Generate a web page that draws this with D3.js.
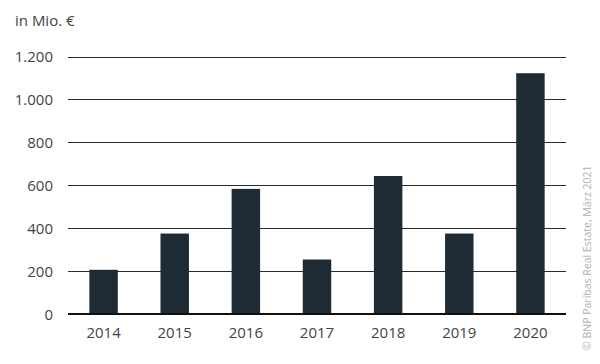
<!DOCTYPE html>
<html>
<head>
<meta charset="utf-8">
<script src="https://cdn.jsdelivr.net/npm/d3@7"></script>
<style>
    body { margin: 0; background: #fff; }
    text { font-family: "Open Sans", sans-serif; }
</style>
</head>
<body>
<div id="chart"></div>
<script>
// chart data
const years = ['2014', '2015', '2016', '2017', '2018', '2019', '2020'];
const volumes = [206, 375, 583, 254, 643, 375, 1122];
const yTicks = [0, 200, 400, 600, 800, 1000, 1200];
const unitLabel = 'in Mio. €';
const sourceLabel = '© BNP Paribas Real Estate, März 2021';

const width = 600;
const height = 364;
const margin = { top: 56.5, right: 34, bottom: 50, left: 68 };

const svg = d3.select('#chart').append('svg')
    .attr('width', width)
    .attr('height', height);

const x = d3.scaleBand()
    .domain(years)
    .range([margin.left, width - margin.right])
    .paddingInner(0.6)
    .paddingOuter(0.3);

const y = d3.scaleLinear()
    .domain([0, 1200])
    .range([height - margin.bottom, margin.top]);

// gridlines (skip 0, drawn as baseline later)
svg.append('g')
    .selectAll('line')
    .data(yTicks.filter(d => d > 0))
    .join('line')
    .attr('x1', margin.left)
    .attr('x2', width - margin.right)
    .attr('y1', d => Math.round(y(d)) + 0.5)
    .attr('y2', d => Math.round(y(d)) + 0.5)
    .attr('stroke', '#2b2b2b')
    .attr('stroke-width', 1.2);

// bars
svg.append('g')
    .selectAll('rect')
    .data(years)
    .join('rect')
    .attr('x', d => x(d))
    .attr('width', x.bandwidth())
    .attr('y', (d, i) => y(volumes[i]))
    .attr('height', (d, i) => y(0) - y(volumes[i]))
    .attr('fill', '#1e2b35');

// baseline
svg.append('line')
    .attr('x1', margin.left)
    .attr('x2', width - margin.right)
    .attr('y1', y(0))
    .attr('y2', y(0))
    .attr('stroke', '#111')
    .attr('stroke-width', 2);

// y labels
svg.append('g')
    .selectAll('text')
    .data(yTicks)
    .join('text')
    .attr('x', 53)
    .attr('y', d => y(d) + 5.5)
    .attr('text-anchor', 'end')
    .attr('font-size', 15)
    .attr('fill', '#444')
    .text(d => d3.format(',')(d).replace(',', '.'));

// x labels
svg.append('g')
    .selectAll('text')
    .data(years)
    .join('text')
    .attr('x', d => x(d) + x.bandwidth() / 2)
    .attr('y', 338)
    .attr('text-anchor', 'middle')
    .attr('font-size', 15)
    .attr('fill', '#444')
    .text(d => d);

// unit label
svg.append('text')
    .attr('x', 15)
    .attr('y', 26)
    .attr('font-size', 15)
    .attr('fill', '#444')
    .text(unitLabel);

// source, vertical
svg.append('text')
    .attr('transform', 'translate(591, 350) rotate(-90)')
    .attr('font-size', 10.5)
    .attr('fill', '#b0b0b0')
    .text(sourceLabel);
</script>
</body>
</html>
